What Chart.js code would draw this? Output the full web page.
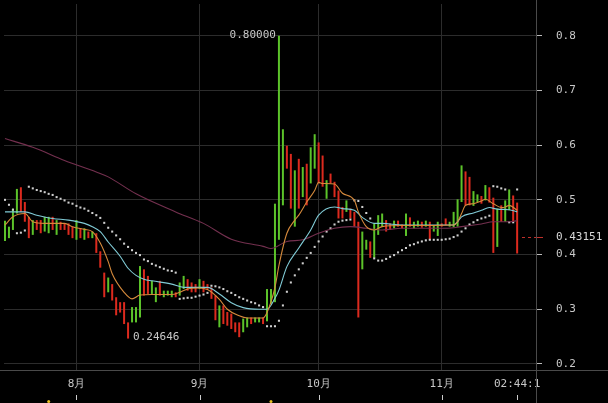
<!DOCTYPE html>
<html>
<head>
<meta charset="utf-8">
<script src="https://cdn.jsdelivr.net/npm/chart.js@4/dist/chart.umd.min.js"></script>
<style>
html, body { margin: 0; padding: 0; background: #000; }
canvas { display: block; }
</style>
</head>
<body>
<canvas id="chart" width="608" height="403"></canvas>
<script>
// daily candles, day 0 = 7/14
const highs = [
  0.462, 0.451, 0.484, 0.520, 0.523, 0.496, 0.469, 0.463, 0.463, 0.463,
  0.469, 0.469, 0.469, 0.463, 0.460, 0.457, 0.457, 0.451, 0.463, 0.448,
  0.448, 0.442, 0.442, 0.439, 0.406, 0.367, 0.358, 0.346, 0.322, 0.313,
  0.313, 0.276, 0.304, 0.304, 0.379, 0.373, 0.361, 0.352, 0.340, 0.352,
  0.334, 0.334, 0.334, 0.331, 0.349, 0.361, 0.355, 0.349, 0.346, 0.355,
  0.352, 0.346, 0.340, 0.325, 0.307, 0.307, 0.295, 0.292, 0.276, 0.276,
  0.283, 0.285, 0.285, 0.285, 0.285, 0.285, 0.337, 0.337, 0.493, 0.800,
  0.629, 0.599, 0.584, 0.554, 0.575, 0.560, 0.566, 0.596, 0.620, 0.605,
  0.581, 0.536, 0.548, 0.533, 0.517, 0.487, 0.499, 0.484, 0.478, 0.460,
  0.442, 0.427, 0.424, 0.457, 0.472, 0.475, 0.463, 0.457, 0.462, 0.462,
  0.455, 0.475, 0.468, 0.460, 0.462, 0.460, 0.462, 0.460, 0.454, 0.460,
  0.457, 0.466, 0.460, 0.478, 0.501, 0.563, 0.552, 0.542, 0.516, 0.510,
  0.507, 0.527, 0.523, 0.504, 0.484, 0.490, 0.499, 0.519, 0.508, 0.495
];
const lows = [
  0.425, 0.430, 0.445, 0.475, 0.478, 0.460, 0.430, 0.436, 0.445, 0.439,
  0.442, 0.439, 0.445, 0.436, 0.445, 0.445, 0.436, 0.430, 0.427, 0.430,
  0.427, 0.430, 0.430, 0.403, 0.376, 0.322, 0.331, 0.316, 0.289, 0.294,
  0.273, 0.24646, 0.276, 0.276, 0.285, 0.325, 0.328, 0.328, 0.313, 0.325,
  0.322, 0.325, 0.322, 0.322, 0.325, 0.337, 0.334, 0.331, 0.331, 0.337,
  0.331, 0.337, 0.319, 0.280, 0.267, 0.273, 0.270, 0.264, 0.258, 0.249,
  0.258, 0.267, 0.273, 0.276, 0.276, 0.273, 0.278, 0.310, 0.313, 0.427,
  0.490, 0.557, 0.484, 0.451, 0.484, 0.505, 0.490, 0.530, 0.557, 0.530,
  0.524, 0.502, 0.530, 0.505, 0.466, 0.466, 0.478, 0.466, 0.451, 0.285,
  0.373, 0.409, 0.394, 0.394, 0.436, 0.451, 0.442, 0.445, 0.448, 0.451,
  0.448, 0.434, 0.451, 0.448, 0.451, 0.449, 0.451, 0.427, 0.442, 0.434,
  0.451, 0.454, 0.451, 0.450, 0.451, 0.496, 0.490, 0.490, 0.489, 0.496,
  0.493, 0.499, 0.495, 0.403, 0.414, 0.460, 0.460, 0.481, 0.460, 0.402
];
// 1 = up (green), 0 = down (red)
const ups = [
  1, 1, 1, 1, 0, 0, 0, 1, 0, 0,
  1, 1, 0, 1, 0, 0, 0, 0, 1, 0,
  1, 0, 1, 0, 0, 0, 1, 0, 0, 0,
  0, 0, 1, 1, 1, 0, 0, 1, 1, 0,
  1, 1, 1, 0, 1, 1, 0, 0, 0, 1,
  0, 0, 0, 0, 1, 0, 0, 0, 0, 0,
  1, 1, 0, 1, 1, 0, 1, 1, 1, 1,
  1, 0, 0, 1, 0, 1, 0, 1, 1, 0,
  0, 1, 0, 0, 0, 0, 1, 0, 0, 0,
  1, 1, 0, 1, 1, 1, 0, 0, 1, 0,
  0, 1, 0, 1, 1, 0, 1, 0, 1, 1,
  0, 0, 1, 1, 1, 1, 0, 0, 1, 1,
  0, 1, 0, 0, 1, 0, 1, 1, 0, 0
];
const lastClose = 0.43151;

// moving averages (sampled days)
const maFastDays = [0, 2, 5, 7, 10, 15, 17, 20, 22, 24, 26, 27, 30, 32, 34, 37, 42, 44, 46, 49, 51, 54, 56, 59, 61, 65, 66, 68, 69, 71, 73, 74, 76, 78, 79, 80, 83, 85, 88, 89, 91, 93, 95, 100, 113, 114, 115, 116, 118, 120, 121, 123, 125, 126, 127, 129];
const maFastVals = [0.454, 0.469, 0.475, 0.460, 0.457, 0.457, 0.451, 0.446, 0.442, 0.421, 0.387, 0.365, 0.331, 0.319, 0.326, 0.327, 0.327, 0.331, 0.337, 0.339, 0.336, 0.318, 0.300, 0.288, 0.284, 0.284, 0.294, 0.340, 0.380, 0.439, 0.463, 0.472, 0.496, 0.517, 0.532, 0.530, 0.529, 0.512, 0.499, 0.478, 0.451, 0.445, 0.451, 0.453, 0.454, 0.460, 0.475, 0.490, 0.493, 0.498, 0.501, 0.493, 0.486, 0.487, 0.490, 0.481];
const maMidDays = [0, 5, 8, 12, 16, 20, 22, 24, 26, 29, 31, 33, 35, 37, 42, 45, 49, 51, 54, 57, 60, 64, 66, 68, 69, 71, 74, 77, 79, 83, 85, 88, 90, 93, 95, 100, 113, 114, 115, 118, 120, 122, 124, 127, 129];
const maMidVals = [0.478, 0.478, 0.472, 0.466, 0.463, 0.457, 0.451, 0.442, 0.423, 0.397, 0.375, 0.362, 0.355, 0.352, 0.346, 0.340, 0.340, 0.340, 0.328, 0.312, 0.303, 0.300, 0.300, 0.320, 0.335, 0.378, 0.412, 0.445, 0.472, 0.487, 0.484, 0.481, 0.468, 0.457, 0.457, 0.454, 0.454, 0.460, 0.469, 0.476, 0.481, 0.486, 0.483, 0.482, 0.478];
const maSlowDays = [0, 7, 15, 23, 26, 33, 43, 50, 57, 65, 67, 71, 75, 79, 83, 87, 91, 95, 100, 111, 115, 120, 123, 127, 129];
const maSlowVals = [0.612, 0.596, 0.572, 0.551, 0.542, 0.511, 0.478, 0.457, 0.428, 0.415, 0.411, 0.424, 0.427, 0.439, 0.448, 0.451, 0.448, 0.445, 0.448, 0.448, 0.451, 0.456, 0.460, 0.460, 0.462];

// parabolic SAR, one per day
const sarVals = [
  0.500, 0.491, 0.482, 0.439, 0.440, 0.444, 0.524, 0.521, 0.518, 0.516,
  0.514, 0.511, 0.509, 0.505, 0.502, 0.499, 0.495, 0.493, 0.489, 0.486,
  0.484, 0.480, 0.476, 0.472, 0.467, 0.458, 0.449, 0.442, 0.435, 0.428,
  0.420, 0.414, 0.408, 0.403, 0.399, 0.391, 0.388, 0.383, 0.380, 0.377,
  0.374, 0.371, 0.370, 0.367, 0.319, 0.320, 0.321, 0.321, 0.323, 0.325,
  0.327, 0.330, 0.343, 0.342, 0.340, 0.337, 0.333, 0.330, 0.326, 0.322,
  0.319, 0.316, 0.313, 0.311, 0.307, 0.304, 0.269, 0.269, 0.269, 0.279,
  0.307, 0.332, 0.349, 0.362, 0.373, 0.384, 0.394, 0.403, 0.414, 0.424,
  0.433, 0.442, 0.448, 0.455, 0.460, 0.462, 0.463, 0.464, 0.499, 0.498,
  0.487, 0.476, 0.466, 0.393, 0.389, 0.389, 0.392, 0.396, 0.399, 0.404,
  0.408, 0.412, 0.417, 0.419, 0.422, 0.424, 0.426, 0.427, 0.427, 0.427,
  0.427, 0.428, 0.429, 0.432, 0.435, 0.442, 0.448, 0.455, 0.459, 0.463,
  0.466, 0.468, 0.471, 0.525, 0.524, 0.521, 0.519, 0.459, 0.459, 0.519
];

const tickDays = [18, 49, 79, 110, 129];
const tickLabels = ['8月', '9月', '10月', '11月', '02:44:1'];
const yTicks = [0.2, 0.3, 0.4, 0.5, 0.6, 0.7, 0.8];
const markerDays = [11, 67];

const GREEN = '#5cc32a';
const RED = '#dc2a1e';
const MONO = '"DejaVu Sans Mono", monospace';

const toPoints = (days, vals) => days.map((d, i) => ({ x: d, y: vals[i] }));

const overlay = {
  id: 'overlay',
  afterDraw(chart) {
    const { ctx, chartArea: area, scales: { x, y } } = chart;
    ctx.save();
    ctx.lineWidth = 1;
    ctx.strokeStyle = '#4a4a4a';
    ctx.beginPath();
    ctx.moveTo(0, area.bottom + 0.5);
    ctx.lineTo(chart.width, area.bottom + 0.5);
    ctx.moveTo(area.right + 0.5, 0);
    ctx.lineTo(area.right + 0.5, chart.height);
    ctx.stroke();

    // small tick marks under the month labels
    ctx.strokeStyle = '#cccccc';
    ctx.beginPath();
    tickDays.forEach(d => {
      const px = Math.round(x.getPixelForValue(d)) + 0.5;
      ctx.moveTo(px, 395);
      ctx.lineTo(px, 400);
    });
    ctx.stroke();

    ctx.fillStyle = '#e8c020';
    markerDays.forEach(d => {
      ctx.beginPath();
      ctx.arc(x.getPixelForValue(d), 401.5, 1.5, 0, Math.PI * 2);
      ctx.fill();
    });

    // max / min labels
    ctx.font = '11px ' + MONO;
    ctx.fillStyle = '#c8c8c8';
    ctx.textBaseline = 'middle';
    const hi = Math.max(...highs), hiIdx = highs.indexOf(hi);
    const lo = Math.min(...lows), loIdx = lows.indexOf(lo);
    ctx.textAlign = 'right';
    ctx.fillText(hi.toFixed(5), x.getPixelForValue(hiIdx) - 3, y.getPixelForValue(hi) - 1);
    ctx.textAlign = 'left';
    ctx.fillText(lo.toFixed(5), x.getPixelForValue(loIdx) + 5, y.getPixelForValue(lo) - 1);

    // last price marker
    const py = Math.round(y.getPixelForValue(lastClose)) + 0.5;
    ctx.strokeStyle = '#c0302a';
    ctx.setLineDash([3, 3]);
    ctx.beginPath();
    ctx.moveTo(area.right - 14, py);
    ctx.lineTo(area.right, py);
    ctx.stroke();
    ctx.setLineDash([]);
    ctx.beginPath();
    ctx.moveTo(area.right + 1, py);
    ctx.lineTo(area.right + 7, py);
    ctx.stroke();
    ctx.fillStyle = '#d8d8d8';
    ctx.fillText(lastClose.toFixed(5), area.right + 20, py);
    ctx.restore();
  }
};

const ctx = document.getElementById('chart').getContext('2d');
new Chart(ctx, {
  type: 'bar',
  data: {
    datasets: [
      {
        type: 'line', label: 'MA fast', data: toPoints(maFastDays, maFastVals),
        borderColor: '#d68a3c', borderWidth: 1.1, pointRadius: 0,
        cubicInterpolationMode: 'monotone', order: 1
      },
      {
        type: 'line', label: 'MA mid', data: toPoints(maMidDays, maMidVals),
        borderColor: '#80cbd6', borderWidth: 1.1, pointRadius: 0,
        cubicInterpolationMode: 'monotone', order: 2
      },
      {
        type: 'line', label: 'MA slow', data: toPoints(maSlowDays, maSlowVals),
        borderColor: '#74304f', borderWidth: 1.1, pointRadius: 0,
        cubicInterpolationMode: 'monotone', order: 3
      },
      {
        type: 'line', label: 'SAR', data: sarVals.map((v, i) => ({ x: i, y: v })),
        showLine: false, pointStyle: 'rect', pointRadius: 1.45, pointBorderWidth: 0,
        pointBackgroundColor: '#cfcfcf', order: 4
      },
      {
        label: 'candles',
        data: highs.map((h, i) => ({ x: i, y: [lows[i], h] })),
        backgroundColor: ups.map(u => (u ? GREEN : RED)),
        barThickness: 2, borderWidth: 0, inflateAmount: 0, grouped: false, order: 10
      }
    ]
  },
  options: {
    responsive: false,
    animation: false,
    layout: { padding: 0 },
    plugins: { legend: { display: false }, tooltip: { enabled: false } },
    scales: {
      x: {
        type: 'linear', min: -0.25, max: 133.75, offset: false,
        grid: {
          offset: false, drawTicks: false,
          color: c => (c.tick && c.tick.value === 129 ? 'transparent' : '#2c2c2c')
        },
        border: { display: false },
        afterBuildTicks: s => { s.ticks = tickDays.map(v => ({ value: v })); },
        afterFit: s => { s.height = 33; s.paddingLeft = 0; s.paddingRight = 0; },
        ticks: {
          autoSkip: false, maxRotation: 0, padding: 8, color: '#c8c8c8',
          font: { family: MONO, size: 11 },
          callback: v => tickLabels[tickDays.indexOf(v)]
        }
      },
      y: {
        position: 'right', min: 0.189, max: 0.858,
        grid: { color: '#2c2c2c', tickColor: '#bbbbbb', tickLength: 6 },
        border: { display: false },
        afterBuildTicks: s => { s.ticks = yTicks.map(v => ({ value: v })); },
        afterFit: s => { s.width = 72; s.paddingTop = 0; s.paddingBottom = 0; },
        ticks: {
          padding: 14, color: '#c8c8c8',
          font: { family: MONO, size: 11 },
          callback: v => String(v)
        }
      }
    }
  },
  plugins: [overlay]
});
</script>
</body>
</html>
